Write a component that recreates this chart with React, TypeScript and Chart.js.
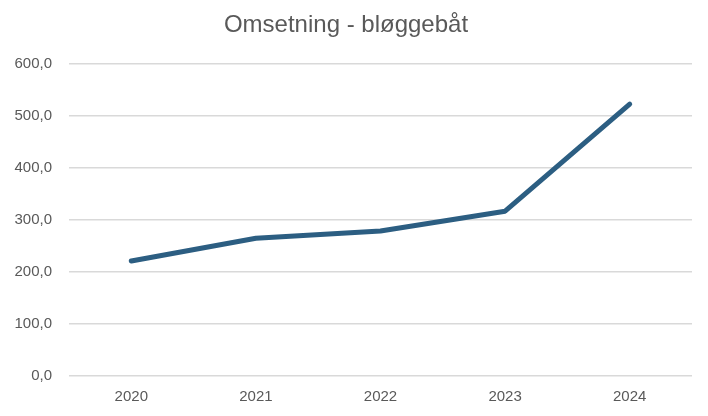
import React, { useEffect, useRef } from "react";
import { Chart, registerables } from "chart.js";

Chart.register(...registerables);

const title = "Omsetning - bløggebåt";
const categories = ["2020", "2021", "2022", "2023", "2024"];
const values = [221, 265, 279, 317, 523];
const yMin = 0;
const yMax = 600;
const yStep = 100;

const fontFamily = "'Liberation Sans Narrow', 'Liberation Sans', Arial, sans-serif";

export default function App() {
  const ref = useRef<HTMLCanvasElement | null>(null);

  useEffect(() => {
    if (!ref.current) return;
    const chart = new Chart(ref.current, {
      type: "line",
      data: {
        labels: categories,
        datasets: [
          {
            data: values,
            borderColor: "#2C5E82",
            borderWidth: 5,
            pointRadius: 0,
            tension: 0,
            fill: false,
            borderCapStyle: "round",
            borderJoinStyle: "round",
          },
        ],
      },
      options: {
        animation: false,
        responsive: false,
        maintainAspectRatio: false,
        layout: { padding: { left: 0, right: 16, top: 0, bottom: 0 } },
        plugins: {
          legend: { display: false },
          tooltip: { enabled: false },
          title: {
            display: true,
            text: title,
            color: "#595959",
            font: { family: fontFamily, size: 24, weight: "normal" },
            padding: { top: 11, bottom: 24.2 },
          },
        },
        scales: {
          x: {
            offset: true,
            grid: { display: false, drawTicks: false },
            border: { display: false },
            ticks: {
              color: "#595959",
              font: { family: fontFamily, size: 15 },
              padding: 12,
              maxRotation: 0,
            },
            afterFit: (s: any) => {
              s.height = 40;
            },
          },
          y: {
            min: yMin,
            max: yMax,
            grid: { color: "#D9D9D9", lineWidth: 1.5, drawTicks: false },
            border: { display: false },
            ticks: {
              stepSize: yStep,
              color: "#595959",
              font: { family: fontFamily, size: 15 },
              padding: 17,
              callback: (v: any) => Number(v).toFixed(1).replace(".", ","),
            },
            afterFit: (s: any) => {
              s.width = 69;
            },
          },
        },
      },
    });
    return () => chart.destroy();
  }, []);

  return (
    <div style={{ position: "fixed", left: 0, top: 0, width: 708, height: 416, background: "#fff" }}>
      <canvas ref={ref} width={708} height={416} style={{ width: 708, height: 416 }} />
    </div>
  );
}
